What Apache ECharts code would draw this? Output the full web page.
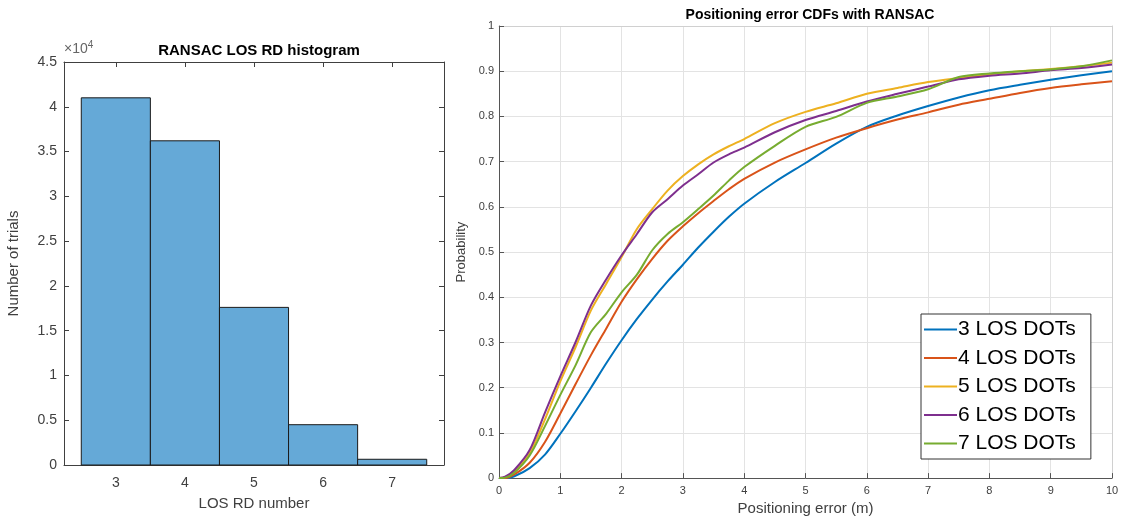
<!DOCTYPE html>
<html>
<head>
<meta charset="utf-8">
<script src="https://cdn.jsdelivr.net/npm/echarts@6/dist/echarts.min.js"></script>
<style>
  html, body { margin: 0; padding: 0; background: #fff; }
  #main { width: 1122px; height: 521px; }
</style>
</head>
<body>
<div id="main"></div>
<script>
// histogram: number of LOS RDs found by RANSAC
const rdNumbers = [3, 4, 5, 6, 7];
const rdCounts = [41000, 36200, 17600, 4500, 640];
const histTickValues = [3, 4, 5, 6, 7];

// CDF curves of the positioning error
const errX = [0, 0.1, 0.25, 0.5, 0.75, 1, 1.25, 1.5, 1.75, 2, 2.25, 2.5, 2.75, 3, 3.25, 3.5, 3.75, 4, 4.5, 5, 5.5, 6, 6.5, 7, 7.5, 8, 8.5, 9, 9.5, 10];
const cdf3 = [0, 0, 0.004, 0.022, 0.052, 0.098, 0.148, 0.2, 0.254, 0.305, 0.352, 0.395, 0.435, 0.472, 0.51, 0.545, 0.578, 0.607, 0.655, 0.697, 0.74, 0.777, 0.802, 0.823, 0.842, 0.858, 0.87, 0.881, 0.891, 0.9];
const cdf4 = [0, 0, 0.008, 0.034, 0.08, 0.143, 0.208, 0.272, 0.331, 0.39, 0.44, 0.485, 0.525, 0.557, 0.586, 0.613, 0.639, 0.662, 0.698, 0.727, 0.753, 0.774, 0.793, 0.809, 0.826, 0.839, 0.852, 0.863, 0.871, 0.878];
const cdf5 = [0, 0.002, 0.014, 0.055, 0.13, 0.214, 0.29, 0.371, 0.43, 0.489, 0.551, 0.595, 0.636, 0.668, 0.694, 0.716, 0.734, 0.75, 0.785, 0.81, 0.829, 0.85, 0.863, 0.876, 0.885, 0.893, 0.9, 0.905, 0.911, 0.919];
const cdf6 = [0, 0.003, 0.018, 0.062, 0.145, 0.225, 0.301, 0.382, 0.44, 0.493, 0.54, 0.588, 0.617, 0.647, 0.672, 0.698, 0.716, 0.731, 0.765, 0.792, 0.812, 0.833, 0.85, 0.866, 0.882, 0.89, 0.895, 0.902, 0.907, 0.915];
const cdf7 = [0, 0.001, 0.012, 0.05, 0.115, 0.184, 0.25, 0.323, 0.364, 0.411, 0.45, 0.504, 0.54, 0.566, 0.595, 0.625, 0.658, 0.688, 0.735, 0.777, 0.799, 0.83, 0.844, 0.86, 0.887, 0.895, 0.9, 0.904, 0.911, 0.924];
const dotNames = ['3 LOS DOTs', '4 LOS DOTs', '5 LOS DOTs', '6 LOS DOTs', '7 LOS DOTs'];
const dotColors = ['#0072BD', '#D95319', '#EDB120', '#7E2F8E', '#77AC30'];

const FONT = 'Liberation Sans, Arial, sans-serif';
const myChart = echarts.init(document.getElementById('main'));

const cdfs = [cdf3, cdf4, cdf5, cdf6, cdf7];

// box lines for MATLAB-like axes
function boxAxis(pos, idx, extra) {
    return Object.assign({
        type: 'value', gridIndex: idx, position: pos,
        axisLine: { show: true, onZero: false, lineStyle: { color: '#404040', width: 1 } },
        axisTick: { show: true, inside: true, length: 5, lineStyle: { color: '#404040' } },
        axisLabel: { show: false },
        splitLine: { show: false }
    }, extra);
}

let option = {
    animation: false,
    backgroundColor: '#fff',
    textStyle: { fontFamily: FONT },
    title: [
        {
            text: 'RANSAC LOS RD histogram', left: 254, top: 38, textAlign: 'center',
            textStyle: { fontSize: 15, fontWeight: 'bold', color: '#000', fontFamily: FONT }
        },
        {
            text: 'Positioning error CDFs with RANSAC', left: 805, top: 3, textAlign: 'center',
            textStyle: { fontSize: 14, fontWeight: 'bold', color: '#000', fontFamily: FONT }
        }
    ],
    graphic: [
        {
            type: 'text', left: 64, top: 40,
            style: {
                text: '{a|×10}{b|4}',
                rich: {
                    a: { fontSize: 14, fill: '#666', fontFamily: FONT },
                    b: { fontSize: 10, fill: '#666', fontFamily: FONT, verticalAlign: 'top', padding: [0, 0, 8, 0] }
                }
            }
        }
    ],
    legend: {
        data: dotNames,
        orient: 'vertical',
        left: 921, top: 314,
        icon: 'rect',
        itemWidth: 33, itemHeight: 2,
        itemGap: 7.5,
        padding: [5, 15, 5, 3],
        backgroundColor: '#fff',
        borderColor: '#333', borderWidth: 1,
        textStyle: { fontSize: 21, color: '#000', lineHeight: 21, fontFamily: FONT, padding: [0, 0, 0, -4] }
    },
    grid: [
        { left: 64, top: 62, width: 380, height: 403 },
        { left: 499, top: 26, width: 613, height: 455 }
    ],
    xAxis: [
        {
            type: 'value', gridIndex: 0, min: 2.25, max: 7.75,
            name: 'LOS RD number', nameLocation: 'middle', nameGap: 31,
            nameTextStyle: { fontSize: 15, color: '#404040' },
            axisLine: { show: true, onZero: false, lineStyle: { color: '#404040' } },
            axisTick: { show: true, inside: true, length: 5, customValues: histTickValues, lineStyle: { color: '#404040' } },
            axisLabel: { customValues: histTickValues, fontSize: 14, color: '#404040', margin: 11 },
            splitLine: { show: false }
        },
        boxAxis('top', 0, { min: 2.25, max: 7.75, axisTick: { show: true, inside: true, length: 5, customValues: histTickValues, lineStyle: { color: '#404040' } } }),
        {
            type: 'value', gridIndex: 1, min: 0, max: 10, interval: 1,
            name: 'Positioning error (m)', nameLocation: 'middle', nameGap: 22,
            nameTextStyle: { fontSize: 15, color: '#404040' },
            axisLine: { show: true, onZero: false, lineStyle: { color: '#555' } },
            axisTick: { show: true, inside: true, length: 5, lineStyle: { color: '#555' } },
            axisLabel: { fontSize: 11, color: '#404040', margin: 7 },
            splitLine: { show: true, lineStyle: { color: '#e3e3e3', width: 1 } }
        },
        boxAxis('top', 1, { min: 0, max: 10, interval: 1, axisLine: { show: true, onZero: false, lineStyle: { color: '#d0d0d0' } }, axisTick: { show: false } })
    ],
    yAxis: [
        {
            type: 'value', gridIndex: 0, min: 0, max: 45000, interval: 5000,
            name: 'Number of trials', nameLocation: 'middle', nameGap: 43,
            nameTextStyle: { fontSize: 15, color: '#404040' },
            axisLine: { show: true, onZero: false, lineStyle: { color: '#404040' } },
            axisTick: { show: true, inside: true, length: 5, lineStyle: { color: '#404040' } },
            axisLabel: { fontSize: 14, color: '#404040', margin: 7, formatter: v => String(v / 10000) },
            splitLine: { show: false }
        },
        boxAxis('right', 0, { min: 0, max: 45000, interval: 5000 }),
        {
            type: 'value', gridIndex: 1, min: 0, max: 1, interval: 0.1,
            name: 'Probability', nameLocation: 'middle', nameGap: 30,
            nameTextStyle: { fontSize: 13, color: '#404040' },
            axisLine: { show: true, onZero: false, lineStyle: { color: '#555' } },
            axisTick: { show: true, inside: true, length: 5, lineStyle: { color: '#555' } },
            axisLabel: { fontSize: 11, color: '#404040', margin: 5, formatter: v => String(+v.toFixed(1)) },
            splitLine: { show: true, lineStyle: { color: '#e3e3e3', width: 1 } }
        },
        boxAxis('right', 1, { min: 0, max: 1, interval: 0.1, axisLine: { show: true, onZero: false, lineStyle: { color: '#d0d0d0' } }, axisTick: { show: false } })
    ],
    series: [
        {
            type: 'custom',
            xAxisIndex: 0, yAxisIndex: 0,
            data: rdNumbers.map((n, i) => [n, rdCounts[i]]),
            renderItem: function (params, api) {
                const x = api.value(0);
                const y = api.value(1);
                const p0 = api.coord([x - 0.5, y]);
                const p1 = api.coord([x + 0.5, 0]);
                return {
                    type: 'rect',
                    shape: { x: p0[0], y: p0[1], width: p1[0] - p0[0], height: p1[1] - p0[1] },
                    style: { fill: '#65A9D7', stroke: '#1a1a1a', lineWidth: 1 }
                };
            },
            z: 1
        }
    ].concat(cdfs.map((vals, k) => ({
        name: dotNames[k],
        type: 'line',
        xAxisIndex: 2, yAxisIndex: 2,
        data: errX.map((x, i) => [x, vals[i]]),
        showSymbol: false,
        symbol: 'none',
        smooth: 0.3,
        lineStyle: { color: dotColors[k], width: 2 },
        itemStyle: { color: dotColors[k] },
        z: 3
    })))
};

myChart.setOption(option);
</script>
</body>
</html>
